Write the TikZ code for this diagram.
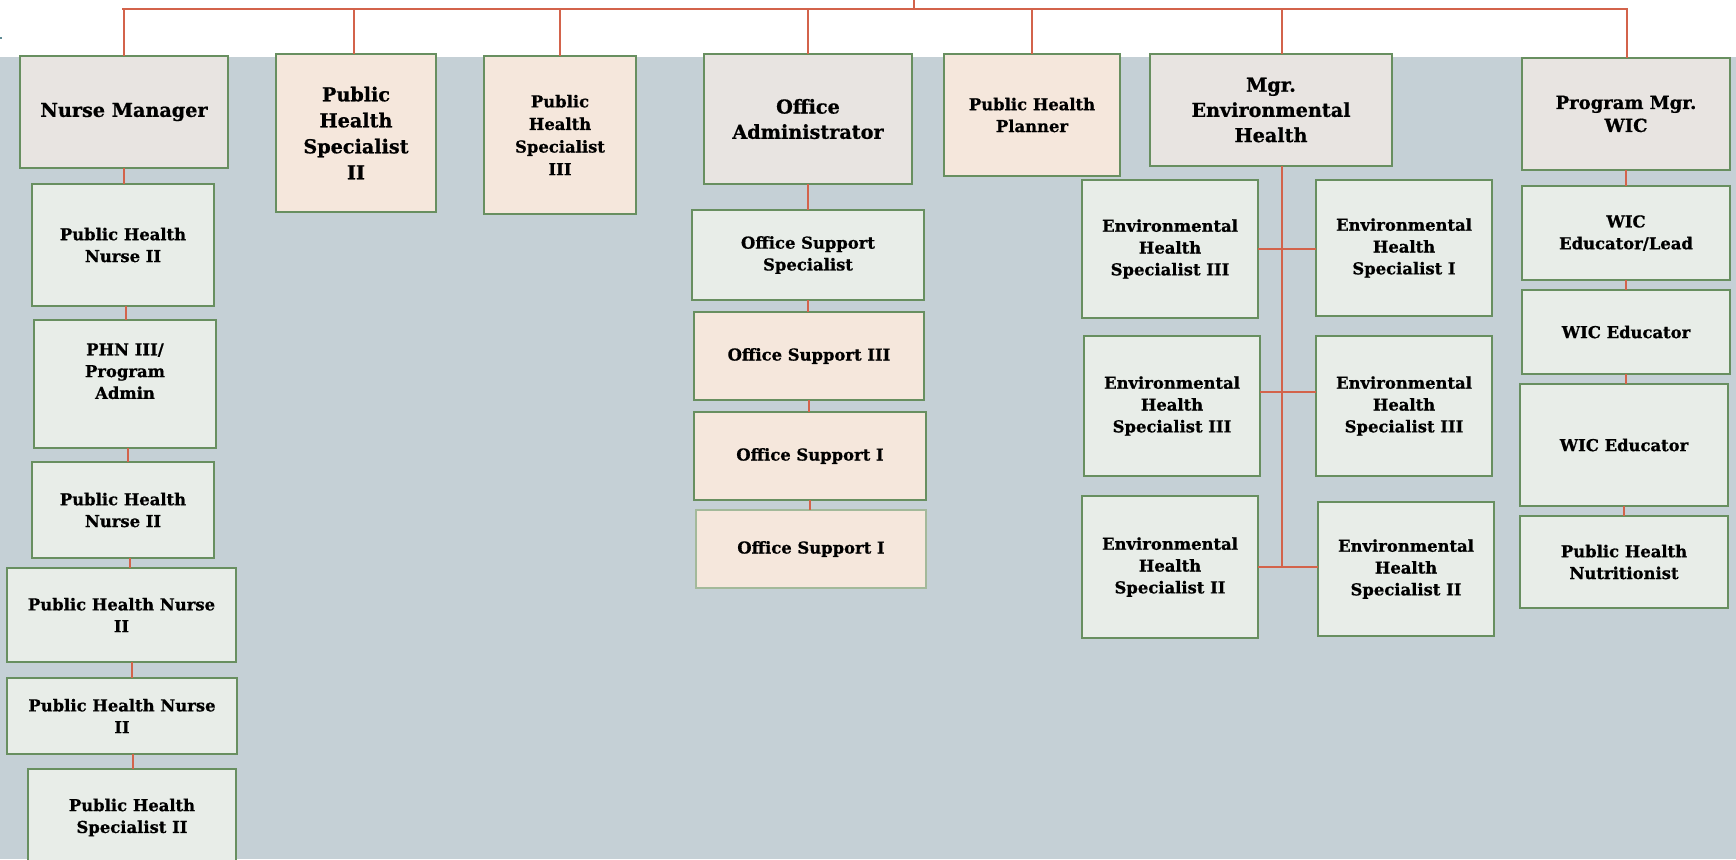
\documentclass[tikz,border=0pt]{standalone}
\usepackage{fontspec}
\setmainfont{DejaVu Serif}[BoldFeatures={FakeBold=0.8}]
\definecolor{bgg}{HTML}{C5D0D6}
\definecolor{warmg}{HTML}{E8E4E1}
\definecolor{peach}{HTML}{F5E7DC}
\definecolor{lgreen}{HTML}{E8EDE8}
\definecolor{bordg}{HTML}{688F60}
\definecolor{lbordg}{HTML}{A3B99A}
\definecolor{redc}{HTML}{D3634B}
\definecolor{tickc}{HTML}{5F8A94}
\tikzset{
  bx/.style={draw=bordg, line width=1.1pt, inner sep=0pt, outer sep=0pt, align=center,
    font=\bfseries\fontsize{8.2}{10.9}\selectfont},
  hd/.style={bx, fill=warmg, font=\bfseries\fontsize{9.6}{12.6}\selectfont},
  pe/.style={bx, fill=peach},
  lg/.style={bx, fill=lgreen},
  ln/.style={draw=redc, line width=1pt},
}
\newcommand\orgbox[7]{\node[#2, minimum width={(#5-#3)*0.5pt}, minimum height={(#6-#4)*0.5pt}] (#1) at ({(#3+#5)/2},{(#4+#6)/2}) {#7};}
\begin{document}
\begin{tikzpicture}[x=0.5pt,y=-0.5pt]
\useasboundingbox (0,0) rectangle (1736,859);
\fill[white] (0,0) rectangle (1736,859);
\fill[bgg] (0,57) rectangle (1736,859);
\draw[tickc, line width=1pt] (0,38) -- (2,38);
% top row
\orgbox{nm}{hd}{20}{56}{228}{168}{\raisebox{-3pt}{Nurse Manager}}
\orgbox{phs2}{pe, font=\bfseries\fontsize{9.6}{13}\selectfont}{276}{54}{436}{212}{Public\\Health\\Specialist\\II}
\orgbox{phs3}{pe, font=\bfseries\fontsize{8.2}{11.3}\selectfont}{484}{56}{636}{214}{Public\\Health\\Specialist\\III}
\orgbox{oa}{hd}{704}{54}{912}{184}{Office\\Administrator}
\orgbox{pl}{pe}{944}{54}{1120}{176}{Public Health\\Planner}
\orgbox{me}{hd}{1150}{54}{1392}{166}{Mgr.\\Environmental\\Health}
\orgbox{wm}{hd, font=\bfseries\fontsize{9}{11.5}\selectfont}{1522}{58}{1730}{170}{Program Mgr.\\WIC}
% nurse column
\orgbox{na}{lg}{32}{184}{214}{306}{Public Health\\Nurse II}
\orgbox{nb}{lg}{34}{320}{216}{448}{PHN III/\\Program\\Admin\\[2pt]~}
\orgbox{nc}{lg}{32}{462}{214}{558}{Public Health\\Nurse II}
\orgbox{nd}{lg}{7}{568}{236}{662}{Public Health Nurse\\II}
\orgbox{ne}{lg}{7}{678}{237}{754}{Public Health Nurse\\II}
\orgbox{nf}{lg}{28}{769}{236}{866}{Public Health\\Specialist II}
% office column
\orgbox{oa1}{lg}{692}{210}{924}{300}{Office Support\\Specialist}
\orgbox{oa2}{pe}{694}{312}{924}{400}{Office Support III}
\orgbox{oa3}{pe}{694}{412}{926}{500}{Office Support I}
\orgbox{oa4}{pe, draw=lbordg, line width=0.8pt}{696}{510}{926}{588}{Office Support I}
% environmental health
\orgbox{etl}{lg}{1082}{180}{1258}{318}{Environmental\\Health\\Specialist III}
\orgbox{etr}{lg}{1316}{180}{1492}{316}{Environmental\\Health\\Specialist I}
\orgbox{eml}{lg}{1084}{336}{1260}{476}{Environmental\\Health\\Specialist III}
\orgbox{emr}{lg}{1316}{336}{1492}{476}{Environmental\\Health\\Specialist III}
\orgbox{ebl}{lg}{1082}{496}{1258}{638}{Environmental\\Health\\Specialist II}
\orgbox{ebr}{lg}{1318}{502}{1494}{636}{Environmental\\Health\\Specialist II}
% WIC column
\orgbox{w1}{lg}{1522}{186}{1730}{280}{WIC\\Educator/Lead}
\orgbox{w2}{lg}{1522}{290}{1730}{374}{WIC Educator}
\orgbox{w3}{lg}{1520}{384}{1728}{506}{WIC Educator}
\orgbox{w4}{lg}{1520}{516}{1728}{608}{Public Health\\Nutritionist}
% top connectors
\coordinate (tl) at (122,9);
\coordinate (tr) at (1628,9);
\coordinate (root) at (914,0);
\draw[ln] (root) -- (root |- tl);
\draw[ln] (tl) -- (tr);
\foreach \n in {nm,phs3,oa,pl}{\draw[ln] (\n.north) -- (\n.north |- tl);}
\draw[ln] ([xshift=-1pt]phs2.north) -- ([xshift=-1pt]phs2.north |- tl);
\draw[ln] ([xshift=5.5pt]me.north) -- ([xshift=5.5pt]me.north |- tl);
\draw[ln] ([xshift=0.5pt]wm.north) -- ([xshift=0.5pt]wm.north |- tl);
% nurse column connectors
\draw[ln] (nm.south) -- (nm.south |- na.north);
\draw[ln] ([xshift=1.5pt]na.south) -- ([xshift=1.5pt]na.south |- nb.north);
\draw[ln] ([xshift=1.5pt]nb.south) -- ([xshift=1.5pt]nb.south |- nc.north);
\draw[ln] ([xshift=3.5pt]nc.south) -- ([xshift=3.5pt]nc.south |- nd.north);
\draw[ln] ([xshift=5pt]nd.south) -- ([xshift=5pt]nd.south |- ne.north);
\draw[ln] ([xshift=5.5pt]ne.south) -- ([xshift=5.5pt]ne.south |- nf.north);
% office connectors
\draw[ln] (oa.south) -- (oa.south |- oa1.north);
\draw[ln] (oa1.south) -- (oa1.south |- oa2.north);
\draw[ln] (oa2.south) -- (oa2.south |- oa3.north);
\draw[ln] (oa3.south) -- (oa3.south |- oa4.north);
% environmental connectors
\draw[ln] ([xshift=5.5pt]me.south) -- ([xshift=5.5pt]me.south |- ebl.east);
\draw[ln] (etl.east) -- (etl.east -| etr.west);
\draw[ln] ([yshift=7pt]eml.east) -- ([yshift=7pt]eml.east -| emr.west);
\draw[ln] (ebl.east) -- (ebl.east -| ebr.west);
% WIC connectors
\draw[ln] (wm.south) -- (wm.south |- w1.north);
\draw[ln] (w1.south) -- (w1.south |- w2.north);
\draw[ln] (w2.south) -- (w2.south |- w3.north);
\draw[ln] (w3.south) -- (w3.south |- w4.north);
\end{tikzpicture}
\end{document}
